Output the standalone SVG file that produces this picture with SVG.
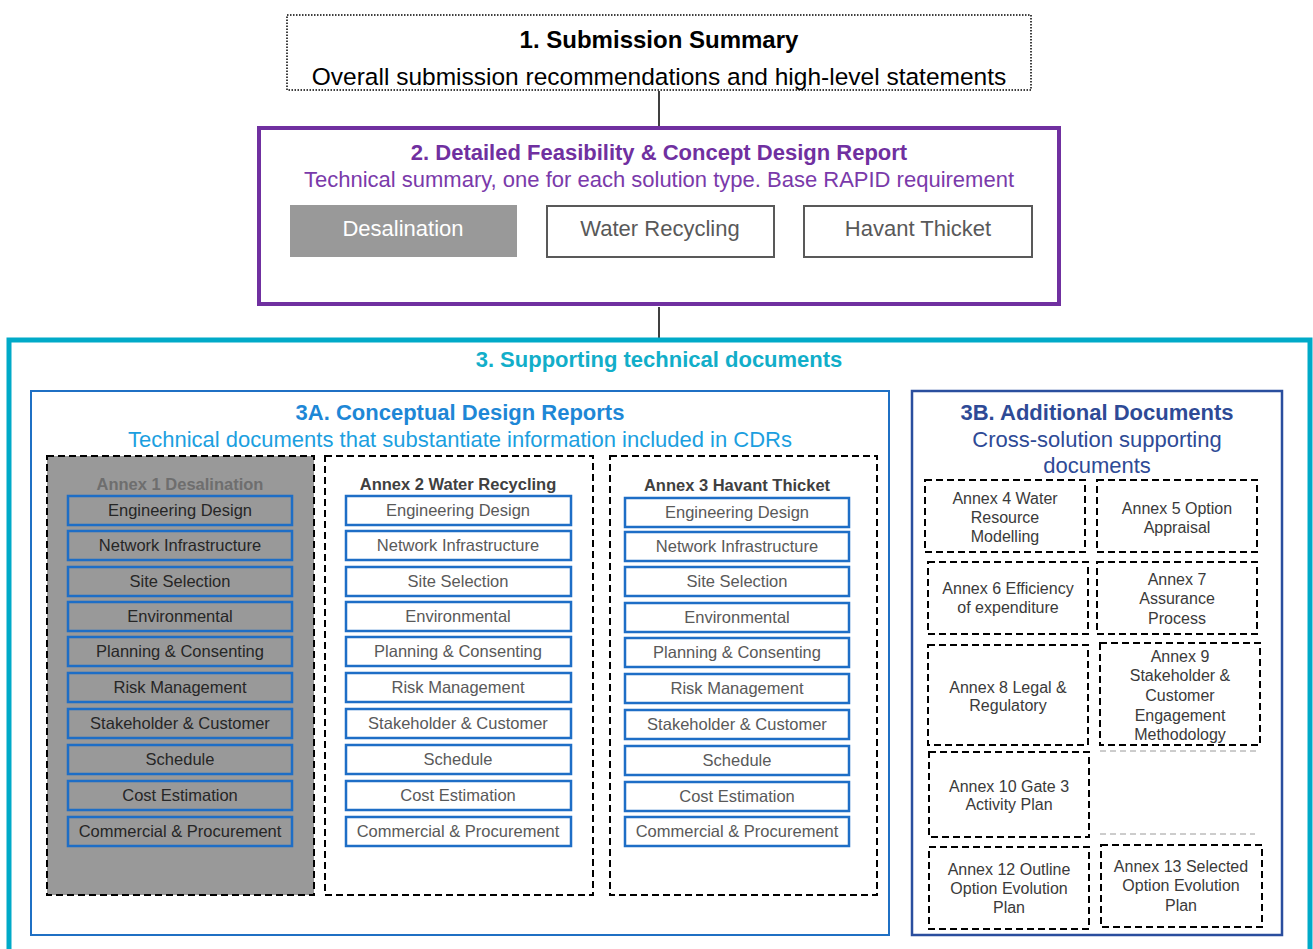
<svg xmlns="http://www.w3.org/2000/svg" width="1313" height="949" viewBox="0 0 1313 949">
  <style>
    text { font-family: "Liberation Sans", Arial, sans-serif; text-anchor: middle; }
    .h { font-weight: bold; font-size: 22px; }
    .sub { font-size: 22px; }
    .dash { fill: none; stroke: #000; stroke-width: 2; stroke-dasharray: 7 4; }
    .item { fill: none; stroke: #1E6EC6; stroke-width: 2.5; }
    .itxt { font-size: 16.5px; fill: #595959; }
    .dtxt { font-size: 16.5px; fill: #262626; }
    .atitle { font-size: 16.5px; font-weight: bold; fill: #404040; }
    .btxt { font-size: 16px; fill: #3A3A3A; }
    .btn { fill: #fff; stroke: #595959; stroke-width: 2; }
    .conn { stroke: #000; stroke-width: 1.5; fill: none; }
  </style>

  <!-- connectors -->
  <g id="connectors">
    <line class="conn" x1="659" y1="91" x2="659" y2="127"/>
    <line class="conn" x1="659" y1="307" x2="659" y2="338"/>
  </g>

  <!-- 1. Submission Summary -->
  <g id="submission-summary">
    <rect x="287" y="15" width="744" height="75" fill="#fff" stroke="#000" stroke-width="1.5" stroke-dasharray="1.5 1.5"/>
    <text x="659" y="48" style="font-weight:bold;font-size:24px" fill="#000">1. Submission Summary</text>
    <text x="659" y="85" style="font-size:24.5px" fill="#000">Overall submission recommendations and high-level statements</text>
  </g>

  <!-- 2. Detailed Feasibility & Concept Design Report -->
  <g id="feasibility-report">
    <rect x="259" y="128" width="800" height="176" fill="#fff" stroke="#7030A0" stroke-width="4"/>
    <text x="659" y="160" class="h" fill="#7030A0">2. Detailed Feasibility &amp; Concept Design Report</text>
    <text x="659" y="187" class="sub" fill="#7A3AAA">Technical summary, one for each solution type. Base RAPID requirement</text>
  </g>
  <g id="btn-desalination">
    <rect x="290" y="205" width="227" height="52" fill="#999999"/>
    <text x="403" y="236" class="sub" fill="#fff">Desalination</text>
  </g>
  <g id="btn-water-recycling">
    <rect class="btn" x="547" y="206" width="227" height="51"/>
    <text x="660" y="236" class="sub" fill="#595959">Water Recycling</text>
  </g>
  <g id="btn-havant-thicket">
    <rect class="btn" x="804" y="206" width="228" height="51"/>
    <text x="918" y="236" class="sub" fill="#595959">Havant  Thicket</text>
  </g>

  <!-- 3. Supporting technical documents (frame runs past the lower edge) -->
  <g id="supporting-docs">
    <rect x="9" y="340" width="1301" height="630" fill="#fff" stroke="#00AAC8" stroke-width="5"/>
    <text x="659" y="367" class="h" fill="#12AEC9">3. Supporting technical documents</text>
  </g>

  <!-- 3A -->
  <g id="cdr-group">
    <rect x="31" y="391" width="858" height="544" fill="#fff" stroke="#1F70C4" stroke-width="2"/>
    <text x="460" y="420" class="h" fill="#1E87D6">3A. Conceptual Design Reports</text>
    <text x="460" y="447" class="sub" fill="#1C9FDF">Technical documents that substantiate information included in CDRs</text>
  </g>

  <!-- Annex 1 -->
  <g id="annex-1">
    <rect class="dash" x="47" y="456" width="267" height="439" style="fill:#999999"/>
    <text x="180" y="490" class="atitle" style="fill:#6E6E6E">Annex 1 Desalination</text>
    <g>
      <rect class="item" x="68" y="496" width="224" height="29"/><text x="180" y="516" class="dtxt">Engineering Design</text>
      <rect class="item" x="68" y="531" width="224" height="29"/><text x="180" y="551" class="dtxt">Network Infrastructure</text>
      <rect class="item" x="68" y="567" width="224" height="29"/><text x="180" y="587" class="dtxt">Site Selection</text>
      <rect class="item" x="68" y="602" width="224" height="29"/><text x="180" y="622" class="dtxt">Environmental</text>
      <rect class="item" x="68" y="637" width="224" height="29"/><text x="180" y="657" class="dtxt">Planning &amp; Consenting</text>
      <rect class="item" x="68" y="673" width="224" height="29"/><text x="180" y="693" class="dtxt">Risk Management</text>
      <rect class="item" x="68" y="709" width="224" height="29"/><text x="180" y="729" class="dtxt">Stakeholder &amp; Customer</text>
      <rect class="item" x="68" y="745" width="224" height="29"/><text x="180" y="765" class="dtxt">Schedule</text>
      <rect class="item" x="68" y="781" width="224" height="29"/><text x="180" y="801" class="dtxt">Cost Estimation</text>
      <rect class="item" x="68" y="817" width="224" height="29"/><text x="180" y="837" class="dtxt">Commercial &amp; Procurement</text>
    </g>
  </g>

  <!-- Annex 2 -->
  <g id="annex-2">
    <rect class="dash" x="325" y="456" width="268" height="439"/>
    <text x="458" y="490" class="atitle">Annex 2 Water Recycling</text>
    <g>
      <rect class="item" x="346" y="496" width="225" height="29"/><text x="458" y="516" class="itxt">Engineering Design</text>
      <rect class="item" x="346" y="531" width="225" height="29"/><text x="458" y="551" class="itxt">Network Infrastructure</text>
      <rect class="item" x="346" y="567" width="225" height="29"/><text x="458" y="587" class="itxt">Site Selection</text>
      <rect class="item" x="346" y="602" width="225" height="29"/><text x="458" y="622" class="itxt">Environmental</text>
      <rect class="item" x="346" y="637" width="225" height="29"/><text x="458" y="657" class="itxt">Planning &amp; Consenting</text>
      <rect class="item" x="346" y="673" width="225" height="29"/><text x="458" y="693" class="itxt">Risk Management</text>
      <rect class="item" x="346" y="709" width="225" height="29"/><text x="458" y="729" class="itxt">Stakeholder &amp; Customer</text>
      <rect class="item" x="346" y="745" width="225" height="29"/><text x="458" y="765" class="itxt">Schedule</text>
      <rect class="item" x="346" y="781" width="225" height="29"/><text x="458" y="801" class="itxt">Cost Estimation</text>
      <rect class="item" x="346" y="817" width="225" height="29"/><text x="458" y="837" class="itxt">Commercial &amp; Procurement</text>
    </g>
  </g>

  <!-- Annex 3 -->
  <g id="annex-3">
    <rect class="dash" x="610" y="456" width="267" height="439"/>
    <text x="737" y="491" class="atitle">Annex 3 Havant Thicket</text>
    <g>
      <rect class="item" x="625" y="498" width="224" height="29"/><text x="737" y="518" class="itxt">Engineering Design</text>
      <rect class="item" x="625" y="532" width="224" height="29"/><text x="737" y="552" class="itxt">Network Infrastructure</text>
      <rect class="item" x="625" y="567" width="224" height="29"/><text x="737" y="587" class="itxt">Site Selection</text>
      <rect class="item" x="625" y="603" width="224" height="29"/><text x="737" y="623" class="itxt">Environmental</text>
      <rect class="item" x="625" y="638" width="224" height="29"/><text x="737" y="658" class="itxt">Planning &amp; Consenting</text>
      <rect class="item" x="625" y="674" width="224" height="29"/><text x="737" y="694" class="itxt">Risk Management</text>
      <rect class="item" x="625" y="710" width="224" height="29"/><text x="737" y="730" class="itxt">Stakeholder &amp; Customer</text>
      <rect class="item" x="625" y="746" width="224" height="29"/><text x="737" y="766" class="itxt">Schedule</text>
      <rect class="item" x="625" y="782" width="224" height="29"/><text x="737" y="802" class="itxt">Cost Estimation</text>
      <rect class="item" x="625" y="817" width="224" height="29"/><text x="737" y="837" class="itxt">Commercial &amp; Procurement</text>
    </g>
  </g>

  <!-- 3B -->
  <g id="additional-docs">
    <rect x="912" y="391" width="370" height="544" fill="#fff" stroke="#2A4E9E" stroke-width="2.5"/>
    <text x="1097" y="420" class="h" fill="#2E4A96">3B. Additional Documents</text>
    <text x="1097" y="447" class="sub" fill="#2E4A96">Cross-solution supporting</text>
    <text x="1097" y="473" class="sub" fill="#2E4A96">documents</text>
  </g>

  <g id="annex-4">
    <rect class="dash" x="925" y="480" width="160" height="72"/>
    <text class="btxt" x="1005" y="504">Annex 4 Water</text>
    <text class="btxt" x="1005" y="523">Resource</text>
    <text class="btxt" x="1005" y="542">Modelling</text>
  </g>
  <g id="annex-5">
    <rect class="dash" x="1097" y="480" width="160" height="72"/>
    <text class="btxt" x="1177" y="514">Annex 5 Option</text>
    <text class="btxt" x="1177" y="533">Appraisal</text>
  </g>
  <g id="annex-6">
    <rect class="dash" x="928" y="562" width="160" height="72"/>
    <text class="btxt" x="1008" y="594">Annex 6 Efficiency</text>
    <text class="btxt" x="1008" y="613">of expenditure</text>
  </g>
  <g id="annex-7">
    <rect class="dash" x="1097" y="562" width="160" height="72"/>
    <text class="btxt" x="1177" y="585">Annex 7</text>
    <text class="btxt" x="1177" y="604">Assurance</text>
    <text class="btxt" x="1177" y="624">Process</text>
  </g>
  <g id="annex-8">
    <rect class="dash" x="928" y="645" width="160" height="100"/>
    <text class="btxt" x="1008" y="693">Annex 8 Legal &amp;</text>
    <text class="btxt" x="1008" y="711">Regulatory</text>
  </g>
  <g id="annex-9">
    <rect class="dash" x="1100" y="643" width="160" height="102"/>
    <text class="btxt" x="1180" y="662">Annex 9</text>
    <text class="btxt" x="1180" y="681">Stakeholder &amp;</text>
    <text class="btxt" x="1180" y="701">Customer</text>
    <text class="btxt" x="1180" y="721">Engagement</text>
    <text class="btxt" x="1180" y="740">Methodology</text>
  </g>
  <!-- faint guide lines in the empty slot -->
  <g id="empty-slot">
    <line x1="1100" y1="751" x2="1258" y2="751" stroke="#9A9A9A" stroke-width="1" stroke-dasharray="6 4"/>
    <line x1="1100" y1="834" x2="1255" y2="834" stroke="#9A9A9A" stroke-width="1" stroke-dasharray="6 4"/>
  </g>
  <g id="annex-10">
    <rect class="dash" x="929" y="752" width="160" height="85"/>
    <text class="btxt" x="1009" y="792">Annex 10 Gate 3</text>
    <text class="btxt" x="1009" y="810">Activity Plan</text>
  </g>
  <g id="annex-12">
    <rect class="dash" x="929" y="847" width="160" height="82"/>
    <text class="btxt" x="1009" y="875">Annex 12 Outline</text>
    <text class="btxt" x="1009" y="894">Option Evolution</text>
    <text class="btxt" x="1009" y="913">Plan</text>
  </g>
  <g id="annex-13">
    <rect class="dash" x="1101" y="845" width="161" height="82"/>
    <text class="btxt" x="1181" y="872">Annex 13 Selected</text>
    <text class="btxt" x="1181" y="891">Option Evolution</text>
    <text class="btxt" x="1181" y="911">Plan</text>
  </g>
</svg>
